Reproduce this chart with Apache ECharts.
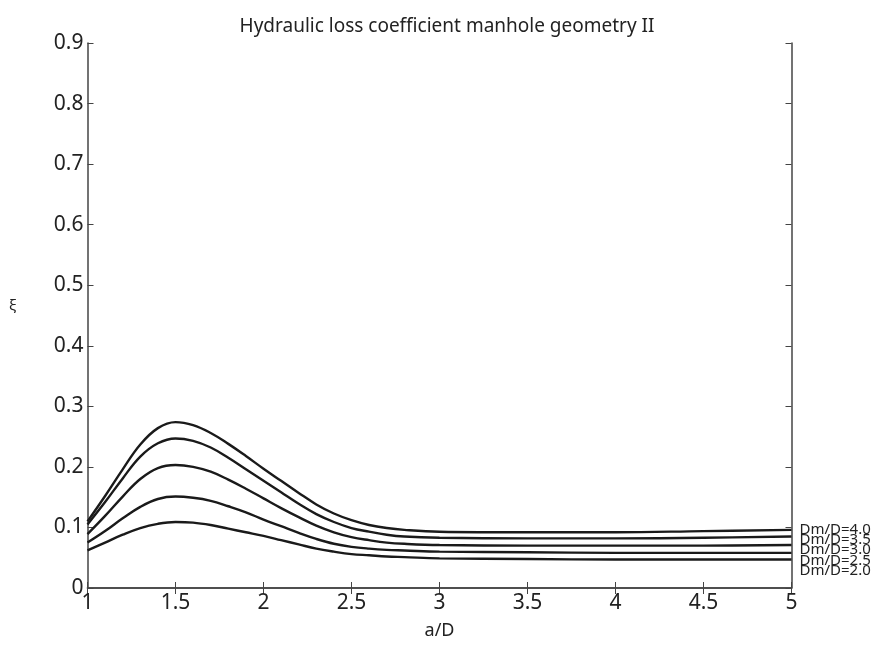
<!DOCTYPE html>
<html>
<head>
<meta charset="utf-8">
<script src="https://cdn.jsdelivr.net/npm/echarts@6/dist/echarts.min.js"></script>
<style>
  html, body { margin: 0; padding: 0; background: #fff; }
  #chart { width: 877px; height: 645px; }
</style>
</head>
<body>
<div id="chart"></div>
<script>
// a/D sample points
var aD = [1.0, 1.1, 1.2, 1.3, 1.4, 1.5, 1.6, 1.7, 1.8, 1.9, 2.0, 2.1, 2.2, 2.3, 2.4, 2.5,
          2.6, 2.7, 2.8, 3.0, 3.5, 4.0, 4.5, 5.0];

// loss coefficient xi for each Dm/D
var xi40 = [0.110, 0.152, 0.196, 0.237, 0.264, 0.274, 0.269, 0.256, 0.238, 0.218, 0.197, 0.177,
            0.157, 0.138, 0.123, 0.112, 0.104, 0.099, 0.096, 0.093, 0.092, 0.092, 0.094, 0.096];
var xi35 = [0.105, 0.142, 0.181, 0.217, 0.239, 0.247, 0.243, 0.232, 0.215, 0.196, 0.177, 0.158,
            0.139, 0.122, 0.109, 0.099, 0.093, 0.088, 0.085, 0.083, 0.082, 0.082, 0.083, 0.085];
var xi30 = [0.089, 0.119, 0.151, 0.180, 0.198, 0.203, 0.200, 0.192, 0.179, 0.164, 0.148, 0.132,
            0.117, 0.103, 0.092, 0.084, 0.079, 0.075, 0.073, 0.071, 0.070, 0.070, 0.070, 0.071];
var xi25 = [0.075, 0.094, 0.115, 0.134, 0.147, 0.151, 0.149, 0.144, 0.135, 0.125, 0.113, 0.102,
            0.091, 0.081, 0.073, 0.068, 0.065, 0.063, 0.062, 0.060, 0.059, 0.058, 0.058, 0.058];
var xi20 = [0.062, 0.075, 0.088, 0.099, 0.106, 0.109, 0.108, 0.104, 0.098, 0.092, 0.086, 0.079,
            0.072, 0.065, 0.060, 0.056, 0.054, 0.052, 0.051, 0.049, 0.048, 0.047, 0.047, 0.047];

var curveNames = ["Dm/D=4.0", "Dm/D=3.5", "Dm/D=3.0", "Dm/D=2.5", "Dm/D=2.0"];
var curveData = [xi40, xi35, xi30, xi25, xi20];
// vertical nudge of the end labels so they don't overlap
var labelShift = [0, 3, 5, 7.5, 11];

var font = "Noto Sans";
var axisCol = "#444";

function pairs(ys) {
    return aD.map(function (x, i) { return [x, ys[i]]; });
}

var series = curveData.map(function (ys, k) {
    return {
        name: curveNames[k],
        type: "line",
        data: pairs(ys),
        smooth: 0.4,
        showSymbol: false,
        symbol: "none",
        lineStyle: { color: "#1a1a1a", width: 2.4 },
        endLabel: {
            show: true,
            formatter: curveNames[k],
            color: "#222",
            fontFamily: font,
            fontSize: 15,
            distance: 8,
            offset: [0, labelShift[k]]
        },
        silent: true,
        animation: false
    };
});

var chart = echarts.init(document.getElementById("chart"));

var tickStyle = { show: true, inside: true, length: 6, lineStyle: { color: axisCol, width: 1 } };
var lineStyle = { show: true, lineStyle: { color: axisCol, width: 1.5 } };

chart.setOption({
    backgroundColor: "#fff",
    animation: false,
    title: {
        text: "Hydraulic loss coefficient manhole geometry II",
        left: 442,
        textAlign: "center",
        top: 12,
        textStyle: { fontFamily: font, fontWeight: "normal", fontSize: 19, color: "#222" }
    },
    graphic: [{
        type: "text",
        left: 9,
        top: 298,
        style: { text: "ξ", fontFamily: font, fontSize: 15, fill: "#222" }
    }],
    grid: { left: 87.5, right: 85.5, top: 43, bottom: 45, containLabel: false },
    xAxis: [
        {
            type: "value", min: 1, max: 5, interval: 0.5,
            name: "a/D", nameLocation: "middle", nameGap: 34,
            nameTextStyle: { fontFamily: font, fontSize: 18, color: "#222" },
            axisLine: lineStyle, axisTick: tickStyle,
            axisLabel: { fontFamily: font, fontSize: 21, color: "#222", margin: 5 },
            splitLine: { show: false }
        },
        {
            type: "value", position: "top", min: 1, max: 5, interval: 0.5,
            axisLine: lineStyle, axisTick: tickStyle,
            axisLabel: { show: false }, splitLine: { show: false }
        }
    ],
    yAxis: [
        {
            type: "value", min: 0, max: 0.9, interval: 0.1,
            axisLine: lineStyle, axisTick: tickStyle,
            axisLabel: {
                fontFamily: font, fontSize: 21, color: "#222", margin: 4,
                formatter: function (v) { return v === 0 ? "0" : v.toFixed(1); }
            },
            splitLine: { show: false }
        },
        {
            type: "value", position: "right", min: 0, max: 0.9, interval: 0.1,
            axisLine: lineStyle, axisTick: tickStyle,
            axisLabel: { show: false }, splitLine: { show: false }
        }
    ],
    series: series
});
</script>
</body>
</html>
